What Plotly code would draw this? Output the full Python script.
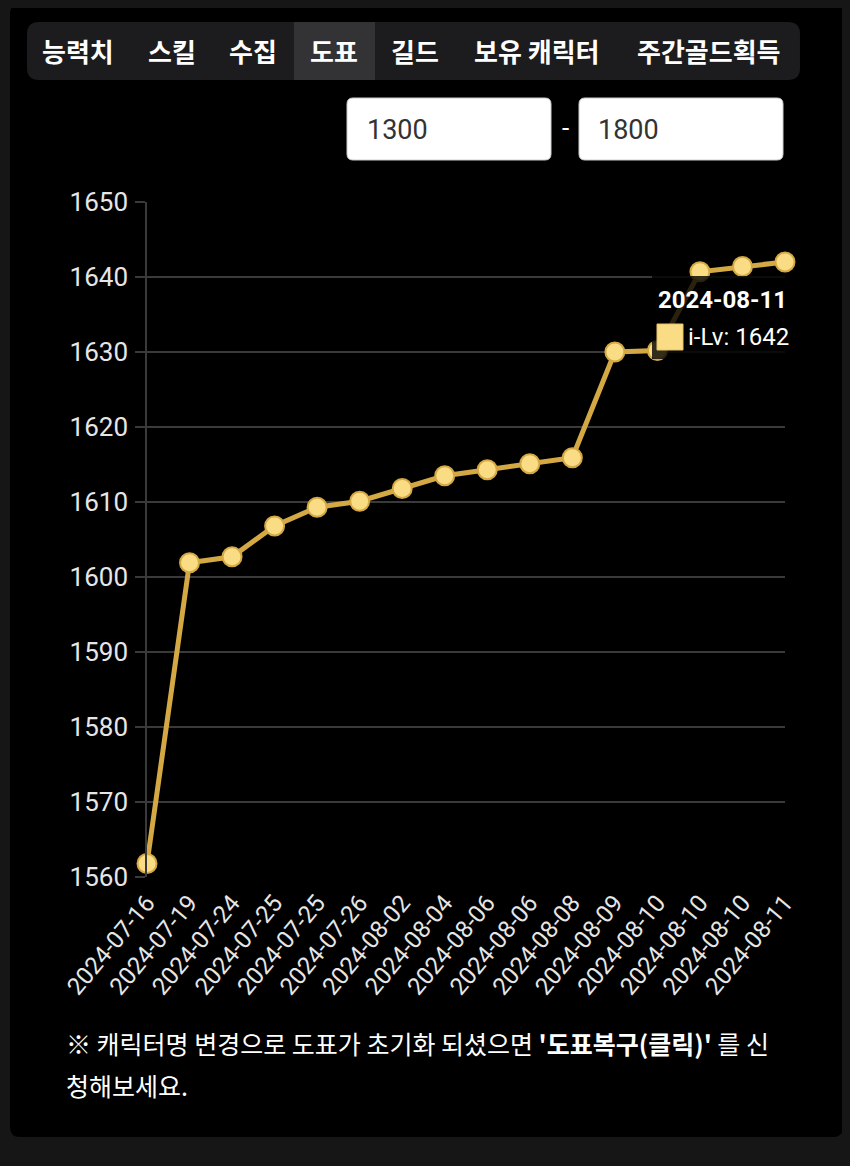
import plotly.graph_objects as go

# data
dates = [
    "2024-07-16", "2024-07-19", "2024-07-24", "2024-07-25", "2024-07-25",
    "2024-07-26", "2024-08-02", "2024-08-04", "2024-08-06", "2024-08-06",
    "2024-08-08", "2024-08-09", "2024-08-10", "2024-08-10", "2024-08-10",
    "2024-08-11",
]
ilv = [
    1561.8, 1601.9, 1602.7, 1606.8, 1609.3,
    1610.1, 1611.8, 1613.5, 1614.3, 1615.1,
    1615.9, 1630.0, 1630.2, 1640.7, 1641.4,
    1642.0,
]
tabs = ["능력치", "스킬", "수집", "도표", "길드", "보유 캐릭터", "주간골드획득"]
tab_x = [78, 172, 253, 334, 415, 537, 709]
range_min, range_max = "1300", "1800"

# the page puts the figure 8px in from the top-left corner
OFF = 8
W, H = 850 - 2 * OFF, 1166 - 2 * OFF
# plot area in screen pixels: x 147..785, y 202..877
L, T = 147 - OFF, 202 - OFF
R, B = W - (785 - OFF), H - (877 - OFF)
PW, PH = W - L - R, H - T - B

PAGE_BG = "#161616"
GOLD = "#d4a944"
FILL = "#f9dc84"
GRID = "#3a3a3a"
FONT = "Roboto, 'Noto Sans', sans-serif"
KFONT = "'Noto Sans CJK KR', 'Noto Sans', sans-serif"


def px(x):
    return (x - OFF - L) / PW


def py(y):
    return (T + PH - (y - OFF)) / PH


def rrect(x0, y0, x1, y1, r):
    pts = [
        ("M", x0 + r, y0), ("L", x1 - r, y0), ("Q", x1, y0, x1, y0 + r),
        ("L", x1, y1 - r), ("Q", x1, y1, x1 - r, y1), ("L", x0 + r, y1),
        ("Q", x0, y1, x0, y1 - r), ("L", x0, y0 + r), ("Q", x0, y0, x0 + r, y0),
    ]
    out = []
    for p in pts:
        cmd, coords = p[0], p[1:]
        xy = []
        for i in range(0, len(coords), 2):
            xy.append(f"{px(coords[i]):.5f},{py(coords[i + 1]):.5f}")
        out.append(cmd + " " + " ".join(xy))
    return " ".join(out) + " Z"


xs = list(range(len(dates)))

fig = go.Figure()
fig.add_trace(go.Scatter(
    x=xs, y=ilv, mode="lines+markers",
    line=dict(color=GOLD, width=5),
    marker=dict(size=19, color=FILL, line=dict(color=GOLD, width=2)),
    cliponaxis=False, hoverinfo="skip", showlegend=False,
))

shapes = [
    # card
    dict(type="path", path=rrect(10, 4, 843, 1137, 10), xref="paper", yref="paper",
         fillcolor="#000000", line=dict(width=0), layer="below"),
    # tab bar
    dict(type="path", path=rrect(27, 22, 800, 80, 12), xref="paper", yref="paper",
         fillcolor="#1c1c1e", line=dict(width=0), layer="below"),
    dict(type="rect", xref="paper", yref="paper", x0=px(294), x1=px(375),
         y0=py(80), y1=py(22), fillcolor="#333335", line=dict(width=0), layer="below"),
    # range inputs
    dict(type="path", path=rrect(347, 98, 551, 160, 6), xref="paper", yref="paper",
         fillcolor="#ffffff", line=dict(color="#cccccc", width=1), layer="below"),
    dict(type="path", path=rrect(579, 98, 783, 160, 6), xref="paper", yref="paper",
         fillcolor="#ffffff", line=dict(color="#cccccc", width=1), layer="below"),
]

# tooltip of the hovered (last) point
last_x, last_y = xs[-1], ilv[-1]
shapes.append(dict(
    type="rect", xref="x", yref="y", xsizemode="pixel", ysizemode="pixel",
    xanchor=last_x, yanchor=last_y, x0=-133, x1=11, y0=-97, y1=-14,
    fillcolor="rgba(0,0,0,0.8)", line=dict(width=0), layer="above",
))
shapes.append(dict(
    type="rect", xref="x", yref="y", xsizemode="pixel", ysizemode="pixel",
    xanchor=last_x, yanchor=last_y, x0=-128, x1=-102, y0=-88, y1=-62,
    fillcolor=FILL, line=dict(color="#e8c46a", width=1), layer="above",
))

annotations = []
for name, x in zip(tabs, tab_x):
    annotations.append(dict(
        text=f"<b>{name}</b>", xref="paper", yref="paper", x=px(x), y=py(51),
        xanchor="center", yanchor="middle", showarrow=False,
        font=dict(family=KFONT, size=26, color="#ffffff"),
    ))
annotations += [
    dict(text=range_min, xref="paper", yref="paper", x=px(365), y=py(130),
         xanchor="left", yanchor="middle", showarrow=False,
         font=dict(family=FONT, size=27, color="#333333")),
    dict(text=range_max, xref="paper", yref="paper", x=px(596), y=py(130),
         xanchor="left", yanchor="middle", showarrow=False,
         font=dict(family=FONT, size=27, color="#333333")),
    dict(text="-", xref="paper", yref="paper", x=px(565), y=py(128),
         xanchor="center", yanchor="middle", showarrow=False,
         font=dict(family=FONT, size=26, color="#ffffff")),
    dict(text=f"<b>{dates[-1]}</b>", xref="x", yref="y", x=last_x, y=last_y,
         xshift=-63, yshift=-38, xanchor="center", yanchor="middle", showarrow=False,
         font=dict(family=FONT, size=24, color="#ffffff")),
    dict(text=f"i-Lv: {ilv[-1]:g}", xref="x", yref="y", x=last_x, y=last_y,
         xshift=-99, yshift=-75, xanchor="left", yanchor="middle", showarrow=False,
         font=dict(family=FONT, size=24, color="#ffffff")),
    dict(text="※ 캐릭터명 변경으로 도표가 초기화 되셨으면 <b>'도표복구(클릭)'</b> 를 신",
         xref="paper", yref="paper", x=px(64), y=py(1043),
         xanchor="left", yanchor="middle", showarrow=False,
         font=dict(family=KFONT, size=25, color="#ffffff")),
    dict(text="청해보세요.", xref="paper", yref="paper", x=px(64), y=py(1085),
         xanchor="left", yanchor="middle", showarrow=False,
         font=dict(family=KFONT, size=25, color="#ffffff")),
]

fig.update_layout(
    width=W, height=H,
    margin=dict(l=L, r=R, t=T, b=B),
    paper_bgcolor=PAGE_BG,
    plot_bgcolor="rgba(0,0,0,0)",
    font=dict(family=FONT, color="#e6e6e6"),
    shapes=shapes,
    annotations=annotations,
)
fig.update_xaxes(
    range=[0, len(dates) - 1], tickmode="array", tickvals=xs, ticktext=dates,
    tickangle=-50, showgrid=False, zeroline=False, showline=False, ticks="",
    tickfont=dict(size=24, color="#e6e6e6"), ticklabelstandoff=6,
)
fig.update_yaxes(
    range=[1560, 1650], dtick=10, tick0=1560, showgrid=True, gridcolor=GRID, gridwidth=1.5,
    zeroline=False, showline=True, linecolor=GRID, linewidth=1.5,
    ticks="outside", ticklen=10, tickcolor=GRID, tickwidth=1.5,
    tickfont=dict(size=26, color="#e6e6e6"), ticklabelstandoff=2,
)

# paint the page margin around the figure the same dark gray
fig.write_html("out.html", post_script=f"document.body.style.background='{PAGE_BG}';")
